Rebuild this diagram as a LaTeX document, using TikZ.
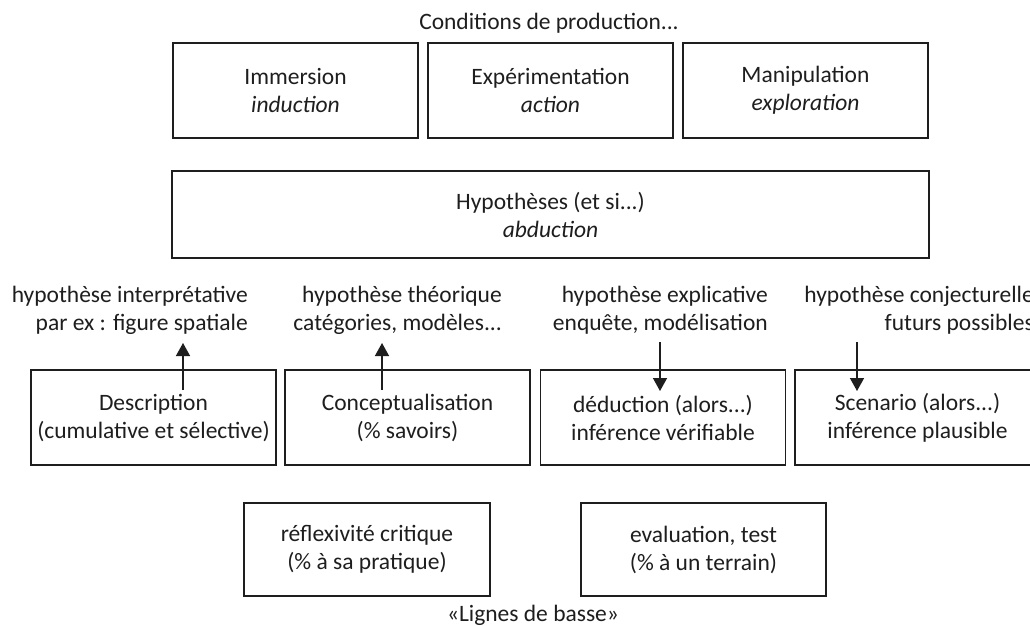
\documentclass[tikz,border=0pt]{standalone}
\usepackage{fontspec}
\setmainfont{Carlito}
\usetikzlibrary{arrows.meta}
\definecolor{ink}{HTML}{1E1E1E}
\tikzset{
  txt/.style={text=ink, font=\fontsize{23.5}{28}\selectfont, inner sep=0pt},
  box/.style={txt, draw=ink, line width=1.4pt, align=center, minimum height=95pt, minimum width=245pt},
  lbl/.style={txt, align=right, anchor=east},
  arr/.style={draw=ink, line width=1.4pt, -{Triangle[width=14pt,length=13pt]}}
}
\begin{document}
\begin{tikzpicture}[x=1pt,y=-1pt]
\clip (0,0) rectangle (1030,625);
\fill[white] (0,0) rectangle (1030,625);

\node[txt] (cond) at (549,23) {Conditions de production...};

\node[box] (imm) at (295.5,90.5) {Immersion\\\textit{induction}};
\node[box] (exp) at (550.5,90.5) {Expérimentation\\\textit{action}};
\node[box] (man) at (805.5,90.5) {Manipulation\\\textit{exploration}};

\node[box, minimum width=757pt, minimum height=87pt] (hyp) at (550.5,214.5) {Hypothèses (et si...)\\\textit{abduction}};

\node[lbl] (l1) at (248,310) {hypothèse interprétative\\par ex : figure spatiale};
\node[lbl] (l2) at (502,310) {hypothèse théorique\\catégories, modèles...};
\node[lbl] (l3) at (768,310) {hypothèse explicative\\enquête, modélisation};
\node[lbl] (l4) at (1034,310) {hypothèse conjecturelle\\futurs possibles};

\node[box] (desc) at (153.5,417.5) {Description\\(cumulative et sélective)};
\node[box] (conc) at (407.5,417.5) {Conceptualisation\\(\% savoirs)};
\node[box] (ded) at (663,417.5) {déduction (alors...)\\inférence vérifiable};
\node[box] (scen) at (917.5,417.5) {Scenario (alors...)\\inférence plausible};

\coordinate (a1s) at (183,390); \coordinate (a1e) at (183,343);
\coordinate (a2s) at (382,390); \coordinate (a2e) at (382,343);
\coordinate (a3s) at (660,342); \coordinate (a3e) at (660,391);
\coordinate (a4s) at (857,342); \coordinate (a4e) at (857,391);
\draw[arr] (a1s) -- (a1e);
\draw[arr] (a2s) -- (a2e);
\draw[arr] (a3s) -- (a3e);
\draw[arr] (a4s) -- (a4e);

\node[box, minimum width=246pt, minimum height=93pt] (refl) at (367,549.5) {réflexivité critique\\(\% à sa pratique)};
\node[box, minimum width=245pt, minimum height=93pt] (eval) at (703.5,549.5) {evaluation, test\\(\% à un terrain)};

\node[txt, anchor=base] (lig) at (533,621) {«Lignes de basse»};
\end{tikzpicture}
\end{document}
